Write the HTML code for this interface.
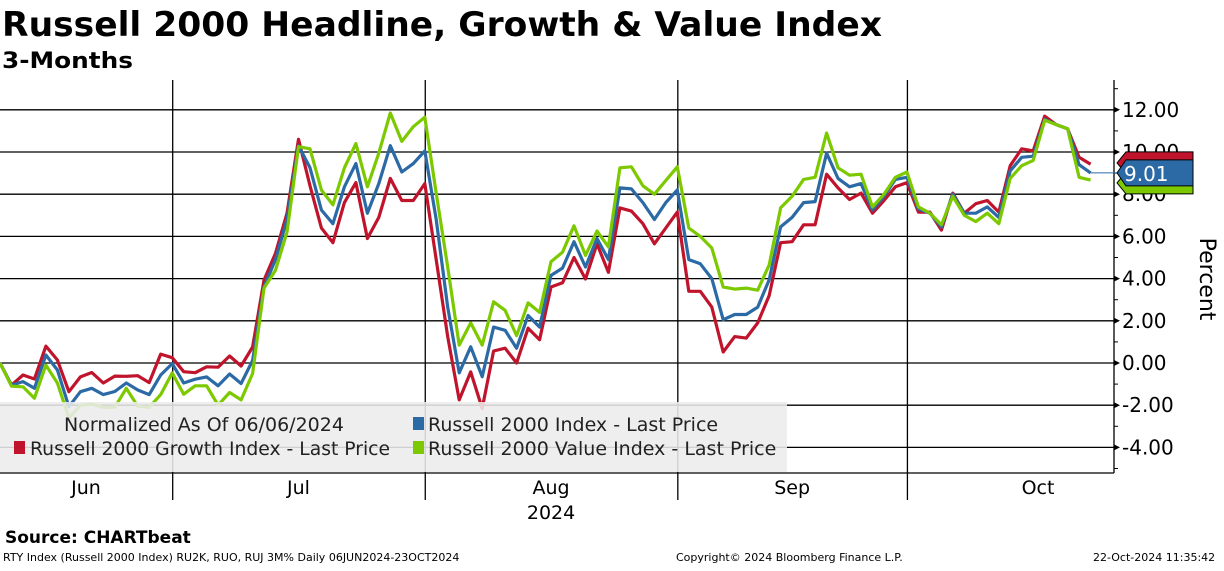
<!DOCTYPE html>
<html><head><meta charset="utf-8"><style>
body{margin:0;background:#fff;font-family:"Liberation Sans",sans-serif;}
svg text{font-family:"DejaVu Sans","Liberation Sans",sans-serif;}
</style></head><body>
<svg width="1224" height="566" viewBox="0 0 1224 566" xmlns="http://www.w3.org/2000/svg">
<text x="2" y="36" font-size="34" font-weight="bold" fill="#000" textLength="880" lengthAdjust="spacingAndGlyphs">Russell 2000 Headline, Growth &amp; Value Index</text>
<text x="2" y="68" font-size="22" font-weight="bold" fill="#000" textLength="131" lengthAdjust="spacingAndGlyphs">3-Months</text>
<g id="grid"></g>
<g id="series"></g>
<g id="axis"></g>
<g>
<rect x="0" y="402" width="787" height="70" fill="#ececec" fill-opacity="0.88"/>
<text x="64" y="431" font-size="19" fill="#222">Normalized As Of 06/06/2024</text>
<rect x="413" y="417" width="11" height="13" fill="#2b6aa5"/>
<text x="428" y="431" font-size="19" fill="#222">Russell 2000 Index - Last Price</text>
<rect x="14" y="441" width="11" height="13" fill="#c0142c"/>
<text x="30" y="455" font-size="19" fill="#222" textLength="360" lengthAdjust="spacingAndGlyphs">Russell 2000 Growth Index - Last Price</text>
<rect x="413" y="441" width="11" height="13" fill="#7dc900"/>
<text x="428" y="455" font-size="19" fill="#222">Russell 2000 Value Index - Last Price</text>
</g>
<text x="5" y="543" font-size="17" font-weight="bold" fill="#000">Source: CHARTbeat</text>
<text x="3" y="561" font-size="11" fill="#000">RTY Index (Russell 2000 Index) RU2K, RUO, RUJ 3M%  Daily 06JUN2024-23OCT2024</text>
<text x="676" y="561" font-size="11" fill="#000">Copyright© 2024 Bloomberg Finance L.P.</text>
<text x="1093" y="561" font-size="11" fill="#000">22-Oct-2024 11:35:42</text>
</svg>
<script>
const yTicks=[12,10,8,6,4,2,0,-2,-4];
const months=["Jun","Jul","Aug","Sep","Oct"];
const monthStartIdx=[0,15,37,59,79];
const growth=[0,-1.05,-0.57,-0.76,0.8,0.14,-1.36,-0.66,-0.45,-0.95,-0.62,-0.63,-0.6,-0.93,0.42,0.25,-0.41,-0.46,-0.18,-0.2,0.33,-0.14,0.76,3.93,5.2,7.1,10.6,8.4,6.4,5.7,7.6,8.55,5.9,6.9,8.75,7.7,7.7,8.5,4.9,1.25,-1.75,-0.42,-2.15,0.57,0.7,0.0,1.65,1.1,3.6,3.8,5.0,3.98,5.65,4.3,7.35,7.2,6.6,5.65,6.4,7.15,3.4,3.4,2.65,0.52,1.25,1.18,1.9,3.2,5.7,5.75,6.55,6.55,8.95,8.3,7.75,8.05,7.1,7.7,8.35,8.55,7.15,7.15,6.3,8.05,7.1,7.55,7.7,7.15,9.35,10.15,10.05,11.7,11.3,11.1,9.75,9.42];
const headline=[0,-1.05,-0.88,-1.2,0.38,-0.33,-2.07,-1.36,-1.2,-1.5,-1.35,-0.95,-1.28,-1.5,-0.57,-0.03,-0.95,-0.77,-0.66,-1.08,-0.52,-0.97,0.12,3.6,4.9,6.8,10.3,9.25,7.25,6.6,8.35,9.45,7.1,8.5,10.3,9.05,9.45,10.05,6.8,2.65,-0.47,0.77,-0.65,1.7,1.55,0.7,2.25,1.7,4.15,4.5,5.75,4.55,5.9,4.9,8.3,8.25,7.6,6.8,7.6,8.2,4.9,4.7,4.0,2.05,2.3,2.3,2.65,3.95,6.45,6.9,7.6,7.65,9.95,8.75,8.35,8.5,7.25,7.9,8.7,8.8,7.3,7.1,6.45,8.0,7.1,7.1,7.4,6.9,9.1,9.75,9.8,11.55,11.3,11.1,9.4,9.01];
const value=[0,-1.1,-1.13,-1.67,-0.1,-0.95,-2.6,-2.0,-1.95,-2.1,-2.1,-1.2,-2.05,-2.1,-1.5,-0.47,-1.48,-1.08,-1.08,-2.0,-1.4,-1.75,-0.5,3.55,4.4,6.2,10.25,10.15,8.2,7.5,9.25,10.4,8.35,9.95,11.85,10.5,11.2,11.65,8.05,4.55,0.85,1.9,0.85,2.9,2.5,1.3,2.85,2.4,4.8,5.25,6.5,5.1,6.25,5.5,9.25,9.3,8.4,8.0,8.65,9.3,6.4,6.0,5.45,3.6,3.5,3.55,3.45,4.65,7.35,7.9,8.7,8.8,10.9,9.25,8.9,8.95,7.4,8.0,8.8,9.05,7.4,7.1,6.55,7.9,7.0,6.7,7.1,6.6,8.75,9.35,9.6,11.5,11.3,11.1,8.8,8.67];
const NS="http://www.w3.org/2000/svg";
const X0=0,STEP=11.48,Y0=363,YS=21.1,AX=1114,TOP=80,BOT=473;
function xs(i){return X0+i*STEP;}
function ys(v){return Y0-v*YS;}
function mk(tag,attrs,parent){const e=document.createElementNS(NS,tag);for(const k in attrs)e.setAttribute(k,attrs[k]);parent.appendChild(e);return e;}
const grid=document.getElementById('grid'),ser=document.getElementById('series'),ax=document.getElementById('axis');
yTicks.forEach(t=>{
  const l=mk('line',{x1:0,x2:AX,y1:ys(t),y2:ys(t),stroke:'#000','stroke-width':1.3},grid);
  
  
  const tk=mk('path',{d:`M${AX} ${ys(t)-3}L${AX+6} ${ys(t)}L${AX} ${ys(t)+3}Z`,fill:'#000'},ax);
  
  
  const tx=mk('text',{x:AX+8,y:ys(t)+7,'font-size':20,fill:'#000'},ax);
  tx.textContent=t.toFixed(2);
  
  
});
for(let v=-5;v<=13;v++){if(v%2){const m=mk('line',{x1:AX,x2:AX+4,y1:ys(v),y2:ys(v),stroke:'#000'},ax);
  
  }}
const axl=mk('line',{x1:AX,x2:AX,y1:TOP,y2:BOT,stroke:'#000','stroke-width':1.3},ax);


const bl=mk('line',{x1:0,x2:AX,y1:BOT,y2:BOT,stroke:'#000','stroke-width':1.3},ax);


monthStartIdx.forEach((s,k)=>{
  if(k>0){const gx=xs(s)+0.5;
    const g=mk('line',{x1:gx,x2:gx,y1:TOP,y2:500,stroke:'#000','stroke-width':1.3},grid);
    
    }
  const e=k<4?monthStartIdx[k+1]:95;
  const cx=k==0?86:(k==4?1038:(xs(s)+xs(e))/2);
  const t=mk('text',{x:cx,y:494,'font-size':19,'text-anchor':'middle',fill:'#000'},ax);
  t.textContent=months[k];
  
  
});
const yr=mk('text',{x:xs(37)/2+xs(59)/2,y:519,'font-size':19,'text-anchor':'middle',fill:'#000'},ax);
yr.textContent='2024';


const pt=mk('text',{x:1200,y:279,'font-size':22,'text-anchor':'middle',fill:'#000',transform:'rotate(90 1200 279)'},ax);
pt.textContent='Percent';


function line(arr,col,name){
  const d=arr.map((v,i)=>(i?'L':'M')+xs(i).toFixed(1)+' '+ys(v).toFixed(1)).join('');
  const p=mk('path',{d:d,fill:'none',stroke:col,'stroke-width':3.2,'stroke-linejoin':'round'},ser);
  
  
}
line(growth,'#c0142c','growth-line');
line(headline,'#2b6aa5','headline-line');
line(value,'#7dc900','value-line');
const last=headline.length-1;
const cl=mk('line',{x1:xs(last),x2:AX+8,y1:ys(headline[last]),y2:ys(headline[last]),stroke:'#2b6aa5'},ax);


function tag(yc,col,h,name,txt){
  const y=yc;
  const p=mk('path',{d:`M${AX+3} ${y}L${AX+12} ${y-h/2}L1193 ${y-h/2}L1193 ${y+h/2}L${AX+12} ${y+h/2}Z`,fill:col,stroke:'#000','stroke-width':1},ax);
  
  
  if(txt){const t=mk('text',{x:1124,y:y+8,'font-size':20,fill:'#fff'},ax);t.textContent=txt;
    
    }
}
const hy=ys(headline[last]);
tag(hy-10,'#c0142c',22,'growth-last-tag','');
tag(hy+10,'#7dc900',22,'value-last-tag','');
tag(hy,'#2b6aa5',26,'headline-last-tag',headline[last].toFixed(2));
</script>
</body></html>
